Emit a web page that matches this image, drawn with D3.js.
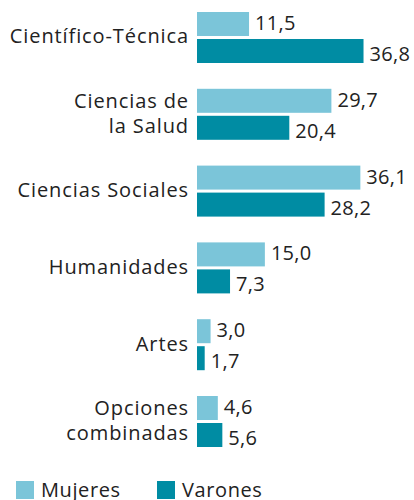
<!DOCTYPE html>
<html>
<head>
<meta charset="utf-8">
<script src="https://cdn.jsdelivr.net/npm/d3@7"></script>
<style>
  body { margin: 0; background: #fff; }
  svg { display: block; font-family: "Open Sans", sans-serif; }
</style>
</head>
<body>
<div id="chart"></div>
<script>
// datos
var categorias = [["Científico-Técnica"], ["Ciencias de", "la Salud"], ["Ciencias Sociales"], ["Humanidades"], ["Artes"], ["Opciones", "combinadas"]];
var series = ["Mujeres", "Varones"];
var mujeres = [11.5, 29.7, 36.1, 15.0, 3.0, 4.6];
var varones = [36.8, 20.4, 28.2, 7.3, 1.7, 5.6];
var colores = ["#7bc5d9", "#008ca3"];

var width = 414, height = 500;

var svg = d3.select("#chart").append("svg")
    .attr("width", width)
    .attr("height", height);

var keys = categorias.map(function(c) { return c.join(" "); });

var x = d3.scaleLinear().domain([0, 40]).range([197, 378]);

var y = d3.scaleBand().domain(keys).range([12, 447]).paddingInner(0.336).paddingOuter(0);
var ySub = d3.scaleBand().domain(series).range([0, y.bandwidth()]).paddingInner(0.111);

var color = d3.scaleOrdinal().domain(series).range(colores);

var fmt = function(v) { return d3.format(".1f")(v).replace(".", ","); };

var rows = keys.map(function(k, i) {
  return { key: k, lines: categorias[i], values: [
    { serie: "Mujeres", v: mujeres[i] },
    { serie: "Varones", v: varones[i] }
  ]};
});

var g = svg.selectAll("g.grupo")
  .data(rows)
  .enter().append("g")
  .attr("class", "grupo")
  .attr("transform", function(d) { return "translate(0," + y(d.key) + ")"; });

g.selectAll("rect")
  .data(function(d) { return d.values; })
  .enter().append("rect")
  .attr("x", x(0))
  .attr("y", function(d) { return ySub(d.serie); })
  .attr("width", function(d) { return x(d.v) - x(0); })
  .attr("height", ySub.bandwidth())
  .attr("fill", function(d) { return color(d.serie); });

// etiquetas de valor
g.selectAll("text.valor")
  .data(function(d) { return d.values; })
  .enter().append("text")
  .attr("class", "valor")
  .attr("x", function(d) { return x(d.v) + 6; })
  .attr("y", function(d) { return ySub(d.serie) + ySub.bandwidth() / 2 + (d.serie == "Mujeres" ? 6 : 10); })
  .attr("font-size", "20px")
  .attr("letter-spacing", "0.3px")
  .attr("fill", "#222")
  .text(function(d) { return fmt(d.v); });

// etiquetas de categoria
g.append("text")
  .attr("class", "cat")
  .attr("x", 189)
  .attr("text-anchor", "end")
  .attr("font-size", "20px")
  .attr("letter-spacing", "0.9px")
  .attr("fill", "#222")
  .each(function(d) {
    var t = d3.select(this);
    var c = y.bandwidth() / 2;
    d.lines.forEach(function(l, j) {
      t.append("tspan")
        .attr("x", 189)
        .attr("y", c + 6 + (j - (d.lines.length - 1) / 2) * 25)
        .text(l);
    });
  });

// leyenda
var leg = svg.selectAll("g.leyenda")
  .data(series)
  .enter().append("g")
  .attr("class", "leyenda")
  .attr("transform", function(d, i) { return "translate(" + (16 + i * 141) + ",481)"; });

leg.append("rect")
  .attr("width", 18)
  .attr("height", 18)
  .attr("fill", function(d) { return color(d); });

leg.append("text")
  .attr("x", 25)
  .attr("y", 16)
  .attr("font-size", "20px")
  .attr("letter-spacing", "0.6px")
  .attr("fill", "#222")
  .text(function(d) { return d; });
</script>
</body>
</html>
